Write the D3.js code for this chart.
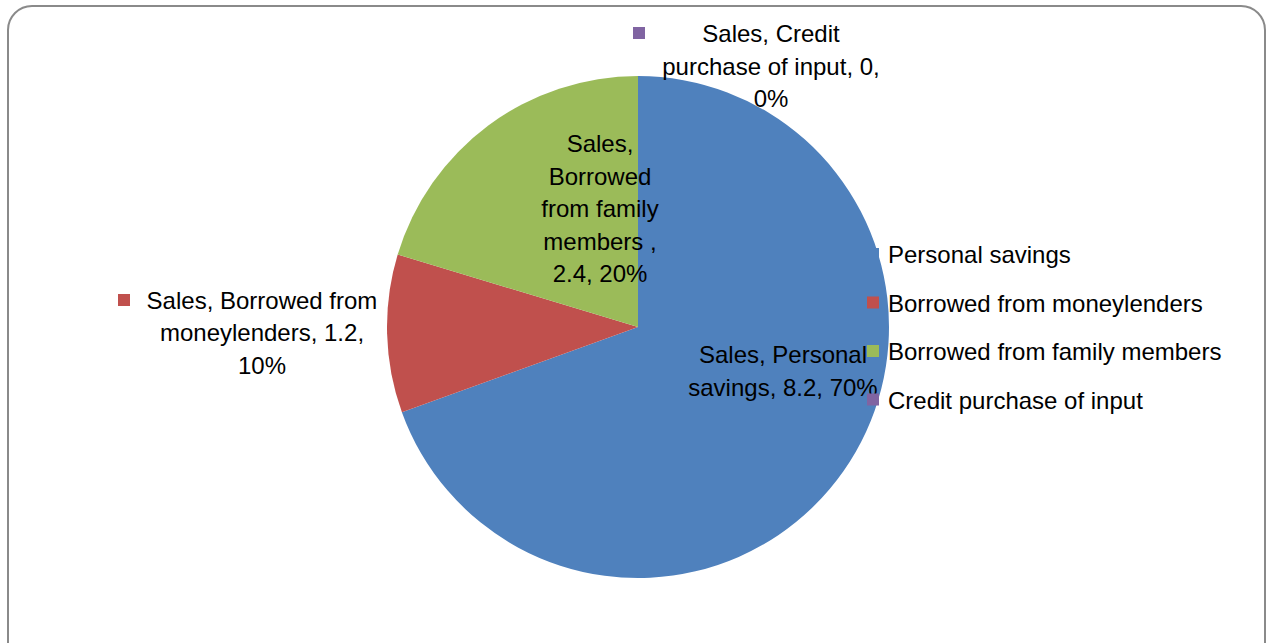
<!DOCTYPE html>
<html>
<head>
<meta charset="utf-8">
<script src="https://cdn.jsdelivr.net/npm/d3@7"></script>
<style>
  html, body { margin: 0; padding: 0; background: #fff; }
  svg { display: block; }
  text { font-family: "Liberation Sans", Arial, sans-serif; fill: #000; }
</style>
</head>
<body>
<svg id="chart" width="1268" height="643"></svg>
<script>
// ---- data ----
const seriesName = "Sales";
const categories = ["Personal savings", "Borrowed from moneylenders", "Borrowed from family members", "Credit purchase of input"];
const values = [8.2, 1.2, 2.4, 0];
const percentLabels = ["70%", "10%", "20%", "0%"];
const colors = ["#4F81BD", "#C0504D", "#9BBB59", "#8064A2"];
// data label lines (as wrapped in the original)
const labelLines = [
  ["Sales, Personal", "savings, 8.2, 70%"],
  ["Sales, Borrowed from", "moneylenders, 1.2,", "10%"],
  ["Sales,", "Borrowed", "from family", "members ,", "2.4, 20%"],
  ["Sales, Credit", "purchase of input, 0,", "0%"]
];

// ---- layout ----
const W = 1268, H = 643;
const cx = 638, cy = 327, R = 251;
const fontSize = 24;
const lineH = 32.5;
// label anchor: center x, first baseline, optional marker
const labelPos = [
  { x: 783, y: 363, marker: null },
  { x: 262, y: 308.5, marker: [124, 300] },
  { x: 600, y: 152, marker: null },
  { x: 771, y: 42, marker: [639, 33] }
];
const legendX = 888, legendY0 = 263, legendStep = 48.5, markerSize = 12;

const svg = d3.select("#chart");

svg.append("rect")
  .attr("x", 8).attr("y", 6)
  .attr("width", 1257).attr("height", 660)
  .attr("rx", 24).attr("ry", 24)
  .attr("fill", "#fff")
  .attr("stroke", "#8a8a8a")
  .attr("stroke-width", 2);

const data = categories.map((c, i) => ({ cat: c, value: values[i], color: colors[i], i }));

const pie = d3.pie().value(d => d.value).sort(null).startAngle(0).endAngle(2 * Math.PI);
const arc = d3.arc().innerRadius(0).outerRadius(R);

const g = svg.append("g").attr("transform", `translate(${cx},${cy})`);
g.selectAll("path")
  .data(pie(data))
  .join("path")
  .attr("d", arc)
  .attr("fill", d => d.data.color);

// data labels
data.forEach((d, i) => {
  const p = labelPos[i];
  if (p.marker) {
    svg.append("rect")
      .attr("x", p.marker[0] - markerSize / 2)
      .attr("y", p.marker[1] - markerSize / 2)
      .attr("width", markerSize).attr("height", markerSize)
      .attr("fill", d.color);
  }
  const t = svg.append("text")
    .attr("text-anchor", "middle")
    .attr("font-size", fontSize);
  labelLines[i].forEach((ln, k) => {
    t.append("tspan")
      .attr("x", p.x)
      .attr("y", p.y + k * lineH)
      .attr("xml:space", "preserve")
      .text(ln);
  });
});

// legend
const leg = svg.append("g");
data.forEach((d, i) => {
  const y = legendY0 + i * legendStep;
  leg.append("rect")
    .attr("x", legendX - 21)
    .attr("y", y - 15)
    .attr("width", markerSize).attr("height", markerSize)
    .attr("fill", d.color);
  leg.append("text")
    .attr("x", legendX)
    .attr("y", y)
    .attr("font-size", fontSize)
    .text(d.cat);
});
</script>
</body>
</html>
